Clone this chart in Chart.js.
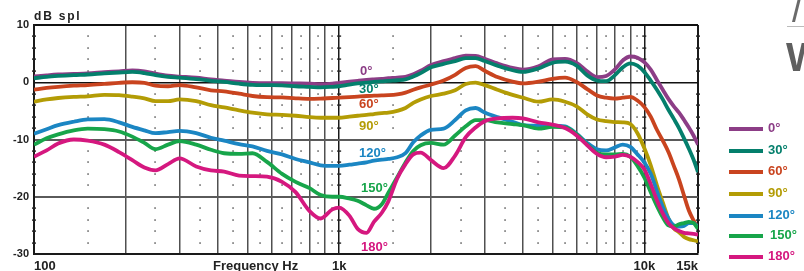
<!DOCTYPE html>
<html>
<head>
<meta charset="utf-8">
<script src="https://cdn.jsdelivr.net/npm/chart.js@4.4.1/dist/chart.umd.min.js"></script>
<style>
  html, body { margin: 0; padding: 0; background: #fff; }
  #wrap { position: relative; width: 804px; height: 271px; overflow: hidden;
          font-family: "Liberation Sans", Arial, sans-serif; font-weight: bold; }
  #wrap canvas { position: absolute; left: 0; top: 0; }
  .t { position: absolute; line-height: 1; white-space: nowrap; }
  .sw { position: absolute; width: 34px; height: 4px; }
</style>
</head>
<body>
<div id="wrap">
  <canvas id="chart" width="804" height="271"></canvas>
  <div class="t" style="left:34px;top:10px;font-size:12px;letter-spacing:1.8px;color:#222">dB spl</div>
  <div class="t" style="left:213px;top:259px;font-size:13px;color:#222">Frequency Hz</div>
  <div style="position:absolute;left:795px;top:-2px;width:3px;height:24px;background:#6a6a6a;transform:skewX(-14deg)"></div>
  <div style="position:absolute;left:787px;top:26px;width:17px;height:1px;background:#bbb"></div>
  <div class="t" style="left:786px;top:37px;font-size:40px;color:#5f5f5f">W</div>
  <div id="labels"></div>
  <div id="legend"></div>
</div>
<script>
// frequenze (Hz)
const freqs = [100,110,120,135,150, 170,190,210,230,250, 275,300,340,380,420,
  470,520,580,650,720, 800,870,950,1000,1080, 1150,1230,1300,1380,1450,
  1550,1650,1750,1850,2000, 2200,2400,2600,2800,3000, 3300,3700,4000,4500,5000,
  5500,6000,6500,7000,7500, 8000,8500,9000,9500,10000, 10500,11000,11500,12000,12500,
  13000,13500,14000,14500,15000];

// dB spl per angolo
const deg0 = [1.0,1.2,1.35,1.45,1.55, 1.75,1.9,2.05,1.9,1.5, 1.15,1.0,0.8,0.5,0.3,
  0.05,-0.1,-0.15,-0.15,-0.2, -0.25,-0.35,-0.25,-0.1,0.1, 0.25,0.4,0.5,0.6,0.7,
  0.8,0.95,1.4,2.0,3.0, 3.7,4.2,4.65,4.6,4.1, 3.3,2.5,2.2,2.8,4.0,
  4.1,3.4,1.9,0.9,1.1, 2.2,3.8,4.5,4.3,3.5, 2.2,0.4,-1.3,-2.9,-4.2,
  -5.3,-6.6,-7.9,-9.3,-10.9];
const deg30 = [0.7,0.95,1.1,1.25,1.35, 1.55,1.7,1.8,1.6,1.25, 0.95,0.8,0.55,0.25,0.05,
  -0.25,-0.45,-0.5,-0.55,-0.7, -0.8,-0.9,-0.8,-0.7,-0.4, -0.2,-0.05,0.05,0.15,0.25,
  0.35,0.5,1.0,1.6,2.6, 3.2,3.7,4.2,4.2,3.7, 2.9,2.1,1.8,2.4,3.4,
  3.6,2.9,1.2,0.3,0.2, 1.2,2.6,3.3,2.9,1.8, 0.3,-1.3,-3.0,-4.8,-6.4,
  -8.0,-9.8,-11.6,-13.5,-15.7];
const deg60 = [-1.3,-1.0,-0.8,-0.6,-0.5, -0.3,-0.1,0.0,-0.1,-0.6, -0.7,-0.5,-0.9,-1.4,-1.6,
  -2.0,-2.4,-2.6,-2.65,-2.8, -2.9,-2.85,-2.75,-2.7,-2.6, -2.5,-2.4,-2.35,-2.3,-2.25,
  -2.1,-1.8,-1.3,-0.9,-0.4, 0.3,1.3,2.5,2.8,2.0, 0.9,0.1,-0.2,0.1,0.6,
  0.8,0.05,-1.2,-2.3,-2.7, -2.85,-2.7,-2.55,-3.2,-4.3, -6.0,-8.3,-10.2,-12.2,-14.6,
  -17.0,-19.8,-22.4,-24.1,-25.5];
const deg90 = [-3.4,-3.0,-2.75,-2.55,-2.45, -2.2,-2.25,-2.5,-2.8,-3.3, -3.3,-3.0,-3.3,-4.0,-4.4,
  -4.9,-5.3,-5.6,-5.7,-5.85, -6.1,-6.2,-6.2,-6.2,-6.0, -5.85,-5.7,-5.55,-5.4,-5.3,
  -5.0,-4.5,-3.6,-3.0,-2.4, -2.0,-1.4,-0.3,-0.05,-0.5, -1.3,-2.2,-2.7,-3.4,-3.0,
  -3.4,-4.2,-5.6,-6.5,-6.8, -6.95,-7.0,-7.3,-8.9,-11.5, -14.5,-18.0,-21.0,-23.8,-25.5,
  -26.2,-27.0,-27.4,-27.6,-27.8];
const deg120 = [-9.0,-8.2,-7.5,-6.9,-6.5, -6.45,-7.0,-7.8,-8.4,-8.9, -8.7,-8.5,-8.9,-9.7,-10.2,
  -10.8,-11.2,-12.0,-12.6,-13.4, -14.0,-14.5,-14.6,-14.6,-14.4, -14.2,-14.0,-13.7,-13.5,-13.4,
  -13.1,-12.4,-10.5,-9.3,-8.3, -8.1,-6.6,-4.9,-4.5,-5.3, -6.1,-6.9,-7.5,-7.6,-7.6,
  -7.7,-9.0,-10.6,-11.7,-11.9, -11.4,-10.9,-11.3,-12.6,-14.0, -16.0,-19.0,-21.8,-23.8,-25.0,
  -25.2,-25.1,-24.6,-24.6,-25.3];
const deg150 = [-10.9,-9.8,-9.1,-8.4,-8.1, -8.2,-8.6,-9.5,-10.6,-11.7, -10.9,-10.3,-10.9,-11.8,-12.4,
  -12.5,-12.4,-13.9,-16.0,-17.4, -18.5,-19.7,-20.0,-20.0,-20.3, -20.7,-21.5,-22.1,-21.3,-19.3,
  -16.6,-14.0,-12.0,-11.0,-10.6, -10.9,-9.3,-7.7,-6.6,-6.6, -7.0,-7.3,-7.5,-8.1,-7.8,
  -7.9,-9.1,-10.9,-12.3,-12.6, -12.6,-12.5,-13.0,-14.6,-16.6, -19.2,-21.6,-23.6,-25.0,-25.2,
  -24.8,-24.6,-24.4,-24.6,-25.6];
const deg180 = [-13.0,-11.9,-10.7,-10.0,-10.2, -10.9,-12.2,-13.6,-14.9,-15.4, -14.3,-13.3,-14.7,-15.4,-15.6,
  -16.3,-16.4,-16.5,-17.4,-19.2, -22.5,-23.8,-22.2,-21.9,-23.3, -25.6,-26.3,-24.4,-22.8,-20.8,
  -16.8,-14.3,-12.6,-12.3,-13.6, -15.0,-12.8,-9.6,-7.9,-6.8, -6.3,-6.2,-6.3,-7.0,-7.4,
  -8.0,-9.3,-11.0,-12.5,-13.1, -13.0,-12.7,-13.0,-13.9,-15.2, -17.8,-20.6,-22.9,-24.6,-25.5,
  -26.0,-26.3,-26.4,-26.5,-26.6];

const angleNames = ['0°','30°','60°','90°','120°','150°','180°'];
const series = [deg0, deg30, deg60, deg90, deg120, deg150, deg180];
const colors = ['#8c3d86','#047f6c','#c9441f','#b39c05','#1b86c3','#17a54a','#d5187f'];

// assi
const xGridValues = [100,200,300,400,500,600,700,800,900,1000,2000,3000,4000,5000,6000,7000,8000,9000,10000,15000];
const xTickValues = [100,1000,10000,15000];
const xTickLabels = ['100','1k','10k','15k'];
const yTickLabels = [10,0,-10,-20,-30];
const dotFreqs = [150,250,350,450,550,650,750,850,950,1500,2500,3500,4500,5500,6500,7500,8500,9500];
const markFreqs = [100,1000,10000,15000];

// posizioni etichette sul grafico (left, baseline)
const curveLabelPos = [[360,75],[359,93],[359,108],[359,130],[359,157],[361,192],[361,251]];
const legendY = [129.3,151,172.3,194,215.7,236,256.7];

const font = "'Liberation Sans', Arial, sans-serif";
const drawOrder = [6,1,0,5,4,2,3];

const datasets = drawOrder.map(i => ({
  label: angleNames[i],
  data: freqs.map((f, k) => ({ x: f, y: series[i][k] })),
  borderColor: colors[i],
  backgroundColor: colors[i],
  borderWidth: 3.8,
  pointRadius: 0,
  fill: false,
  cubicInterpolationMode: 'monotone'
}));

// griglia a puntini
const dotGrid = {
  id: 'dotGrid',
  beforeDatasetsDraw(chart) {
    const { ctx, scales: { x, y } } = chart;
    ctx.save();
    ctx.fillStyle = '#222';
    for (let v = -28; v < 10; v += 2) {
      if (v % 10 === 0) continue;
      const py = Math.round(y.getPixelForValue(v));
      dotFreqs.forEach(f => {
        ctx.fillRect(Math.round(x.getPixelForValue(f)) - 0.6, py - 0.6, 1.3, 1.3);
      });
      markFreqs.forEach(f => {
        ctx.fillRect(x.getPixelForValue(f) - 2, py - 0.6, 4, 1.4);
      });
    }
    ctx.restore();
  }
};

new Chart(document.getElementById('chart'), {
  type: 'line',
  data: { datasets },
  options: {
    responsive: false,
    animation: false,
    devicePixelRatio: 1,
    layout: { padding: { top: 25, right: 106, left: 0, bottom: 0 } },
    plugins: { legend: { display: false }, tooltip: { enabled: false } },
    scales: {
      x: {
        type: 'logarithmic',
        min: 100,
        max: 15000,
        afterBuildTicks: s => { s.ticks = xGridValues.map(v => ({ value: v })); },
        afterFit: s => { s.height = 17; },
        ticks: {
          autoSkip: false,
          maxRotation: 0,
          minRotation: 0,
          align: 'inner',
          padding: 5,
          color: '#222',
          font: { family: font, size: 13, weight: 'bold' },
          callback: v => {
            const i = xTickValues.indexOf(Number(v));
            return i >= 0 ? xTickLabels[i] : '';
          }
        },
        grid: {
          drawTicks: false,
          color: c => {
            const v = c.tick && c.tick.value;
            if (v === 1000 || v === 10000 || v === 15000) return '#1a1a1a';
            return '#505050';
          },
          lineWidth: c => {
            const v = c.tick && c.tick.value;
            return v === 15000 ? 2 : 1.5;
          }
        },
        border: { display: true, color: '#1a1a1a', width: 2 }
      },
      y: {
        min: -30,
        max: 10,
        afterFit: s => { s.width = 34; },
        ticks: {
          stepSize: 2,
          autoSkip: false,
          padding: 5,
          color: '#222',
          font: { family: font, size: 11, weight: 'bold' },
          callback: v => yTickLabels.includes(v) ? String(v) : ''
        },
        grid: {
          drawTicks: false,
          color: c => {
            const v = c.tick && c.tick.value;
            if (v === 0 || v === 10) return '#111';
            if (v % 10 === 0) return '#5a5a5a';
            return 'rgba(0,0,0,0)';
          },
          lineWidth: c => {
            const v = c.tick && c.tick.value;
            if (v === 0) return 1.5;
            return 2;
          }
        },
        border: { display: true, color: '#1a1a1a', width: 2 }
      }
    }
  },
  plugins: [dotGrid]
});

// etichette sulle curve e legenda
const labelsBox = document.getElementById('labels');
const legendBox = document.getElementById('legend');
angleNames.forEach((name, i) => {
  const lab = document.createElement('div');
  lab.className = 't';
  lab.style.cssText = `left:${curveLabelPos[i][0]}px;top:${curveLabelPos[i][1] - 11}px;font-size:13px;color:${colors[i]}`;
  lab.textContent = name;
  labelsBox.appendChild(lab);

  const sw = document.createElement('div');
  sw.className = 'sw';
  sw.style.cssText = `left:729px;top:${legendY[i] - 2}px;background:${colors[i]}`;
  legendBox.appendChild(sw);

  const txt = document.createElement('div');
  txt.className = 't';
  txt.style.cssText = `left:${i === 5 ? 770 : 768}px;top:${legendY[i] + 3 - 11}px;font-size:13px;color:${colors[i]}`;
  txt.textContent = name;
  legendBox.appendChild(txt);
});
</script>
</body>
</html>
